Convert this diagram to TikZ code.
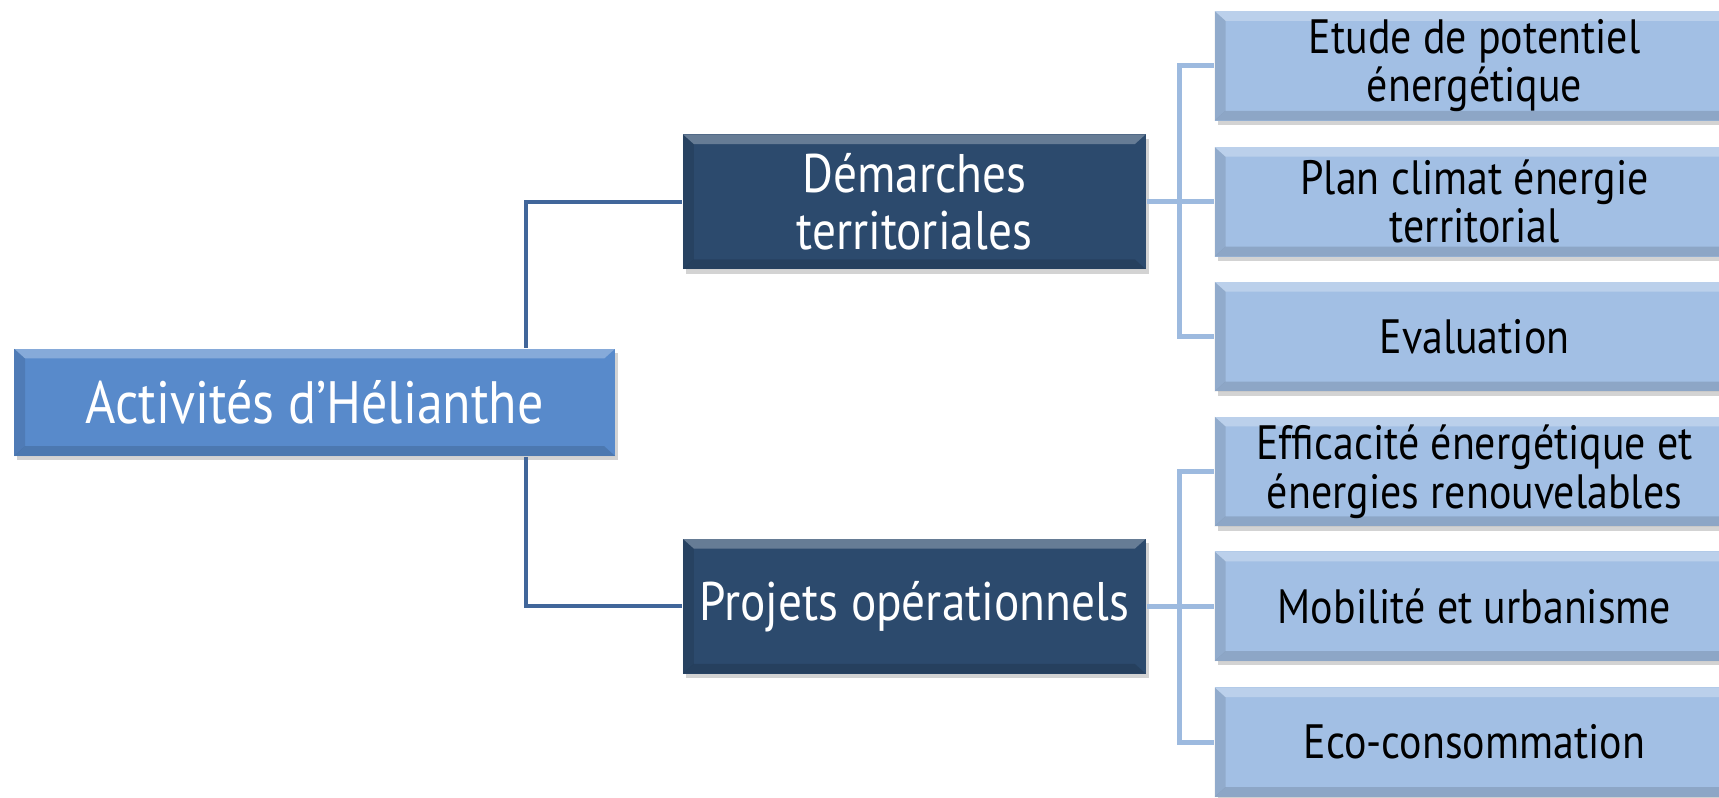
\documentclass[tikz,border=0pt]{standalone}
\usepackage{fontspec}
\setmainfont{PT Sans}[FakeStretch=0.87]
\usetikzlibrary{shadows,calc}
\definecolor{rootblue}{HTML}{588ACB}
\definecolor{darkblue}{HTML}{2C4A6D}
\definecolor{lightblue}{HTML}{A2BFE4}
\definecolor{lineblue}{HTML}{41669A}
\definecolor{lightline}{HTML}{9DBADF}
\tikzset{
  x=0.01cm, y=-0.01cm,
  bevel/.style={path picture={
    \fill[white,opacity=.28] (path picture bounding box.north west) -- (path picture bounding box.north east)
      -- ([xshift=-0.1cm,yshift=-0.09cm]path picture bounding box.north east)
      -- ([xshift=0.1cm,yshift=-0.09cm]path picture bounding box.north west) -- cycle;
    \fill[black,opacity=.10] (path picture bounding box.north west) -- ([xshift=0.1cm,yshift=-0.09cm]path picture bounding box.north west)
      -- ([xshift=0.1cm,yshift=0.09cm]path picture bounding box.south west) -- (path picture bounding box.south west) -- cycle;
    \fill[black,opacity=.13] (path picture bounding box.south west) -- ([xshift=0.1cm,yshift=0.09cm]path picture bounding box.south west)
      -- ([xshift=-0.1cm,yshift=0.09cm]path picture bounding box.south east) -- (path picture bounding box.south east) -- cycle;
  }},
  boxbase/.style={rectangle, inner sep=0pt, align=center, bevel,
    drop shadow={shadow xshift=0.03cm, shadow yshift=-0.04cm, opacity=.35}},
  rootbox/.style={boxbase, fill=rootblue, text=white, minimum width=5.48cm, minimum height=0.98cm,
    font=\fontsize{15.5}{16}\selectfont},
  midbox/.style={boxbase, fill=darkblue, text=white, minimum width=4.22cm, minimum height=1.23cm,
    font=\fontsize{14.1}{14.8}\selectfont},
  leafbox/.style={boxbase, fill=lightblue, text=black, minimum width=4.74cm, minimum height=1.0cm,
    font=\fontsize{12.5}{10.9}\selectfont},
  darkline/.style={draw=lineblue, line width=1pt},
  lightlink/.style={draw=lightline, line width=1.25pt},
}
\begin{document}
\begin{tikzpicture}
\useasboundingbox (0,0) rectangle (1568,727);
\coordinate (jr) at (480,367);
\node[midbox] (d1) at (834,184) {Démarches\\territoriales};
\node[midbox] (d2) at (834,553) {Projets opérationnels};
\node[rootbox] (root) at (287,367) {Activités d’Hélianthe};
\node[leafbox] (l1) at (1345,60) {Etude de potentiel\\énergétique};
\node[leafbox] (l2) at (1345,184) {Plan climat énergie\\territorial};
\node[leafbox] (l3) at (1345,307) {Evaluation};
\node[leafbox] (l4) at (1345,430) {Efficacité énergétique et\\énergies renouvelables};
\node[leafbox] (l5) at (1345,553) {Mobilité et urbanisme};
\node[leafbox] (l6) at (1345,677) {Eco-consommation};
\draw[darkline] (root.north -| jr) |- (d1.west);
\draw[darkline] (root.south -| jr) |- (d2.west);
\draw[lightlink] (d1.east) -- (l2.west);
\draw[lightlink] (l1.west) -- ++(-31,0) |- (l3.west);
\draw[lightlink] (d2.east) -- (l5.west);
\draw[lightlink] (l4.west) -- ++(-31,0) |- (l6.west);
\end{tikzpicture}
\end{document}
